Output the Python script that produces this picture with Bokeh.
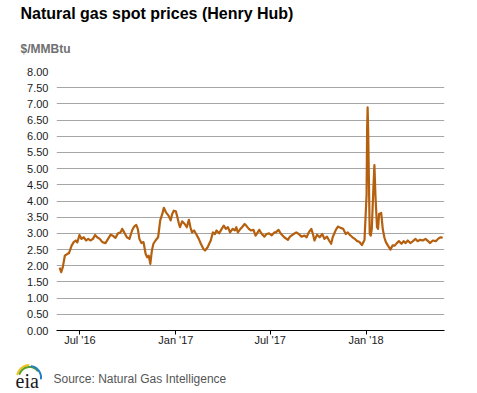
import math
import pandas as pd
from bokeh.plotting import figure
from bokeh.models import Range1d, FixedTicker, DatetimeTickFormatter, NumeralTickFormatter, ColumnDataSource
from bokeh.layouts import column
from bokeh.core.properties import value
from bokeh.embed import file_html
from bokeh.resources import INLINE

title_text = "Natural gas spot prices (Henry Hub)"
unit_text = "$/MMBtu"
source_text = "Source: Natural Gas Intelligence"

dates = [
    "2016-05-23", "2016-05-26", "2016-05-29", "2016-06-02", "2016-06-07", "2016-06-10",
    "2016-06-15", "2016-06-19", "2016-06-23", "2016-06-26", "2016-06-30", "2016-07-04",
    "2016-07-08", "2016-07-13", "2016-07-17", "2016-07-21", "2016-07-26", "2016-07-30",
    "2016-08-03", "2016-08-08", "2016-08-13", "2016-08-19", "2016-08-24", "2016-08-29",
    "2016-09-02", "2016-09-07", "2016-09-12", "2016-09-17", "2016-09-20", "2016-09-24",
    "2016-09-29", "2016-10-04", "2016-10-09", "2016-10-13", "2016-10-17", "2016-10-20",
    "2016-10-23", "2016-10-27", "2016-10-31", "2016-11-04", "2016-11-07", "2016-11-10",
    "2016-11-13", "2016-11-16", "2016-11-19", "2016-11-23", "2016-11-28", "2016-12-02",
    "2016-12-06", "2016-12-09", "2016-12-13", "2016-12-18", "2016-12-22", "2016-12-25",
    "2016-12-28", "2017-01-01", "2017-01-04", "2017-01-07", "2017-01-09", "2017-01-13",
    "2017-01-18", "2017-01-22", "2017-01-26", "2017-01-29", "2017-02-01", "2017-02-05",
    "2017-02-09", "2017-02-14", "2017-02-18", "2017-02-23", "2017-02-26", "2017-03-03",
    "2017-03-06", "2017-03-09", "2017-03-13", "2017-03-17", "2017-03-20", "2017-03-25",
    "2017-03-30", "2017-04-03", "2017-04-07", "2017-04-11", "2017-04-15", "2017-04-20",
    "2017-04-24", "2017-04-27", "2017-04-30", "2017-05-05", "2017-05-08", "2017-05-13",
    "2017-05-16", "2017-05-21", "2017-05-25", "2017-05-30", "2017-06-03", "2017-06-07",
    "2017-06-10", "2017-06-15", "2017-06-20", "2017-06-24", "2017-06-29", "2017-07-04",
    "2017-07-09", "2017-07-12", "2017-07-17", "2017-07-22", "2017-07-28", "2017-08-04",
    "2017-08-08", "2017-08-15", "2017-08-20", "2017-08-25", "2017-08-30", "2017-09-05",
    "2017-09-09", "2017-09-13", "2017-09-18", "2017-09-21", "2017-09-24", "2017-09-29",
    "2017-10-04", "2017-10-09", "2017-10-13", "2017-10-18", "2017-10-22", "2017-10-26",
    "2017-10-29", "2017-11-04", "2017-11-08", "2017-11-13", "2017-11-18", "2017-11-23",
    "2017-11-27", "2017-12-01", "2017-12-06", "2017-12-11", "2017-12-15", "2017-12-19",
    "2017-12-24", "2017-12-27", "2017-12-29", "2018-01-02", "2018-01-03", "2018-01-04",
    "2018-01-05", "2018-01-08", "2018-01-10", "2018-01-12", "2018-01-15", "2018-01-17",
    "2018-01-19", "2018-01-22", "2018-01-24", "2018-01-26", "2018-01-30", "2018-02-02",
    "2018-02-05", "2018-02-08", "2018-02-12", "2018-02-17", "2018-02-21", "2018-02-25",
    "2018-03-01", "2018-03-05", "2018-03-10", "2018-03-14", "2018-03-18", "2018-03-22",
    "2018-03-27", "2018-04-01", "2018-04-06", "2018-04-10", "2018-04-15", "2018-04-20",
    "2018-04-25", "2018-04-30", "2018-05-04", "2018-05-09", "2018-05-15", "2018-05-19",
    "2018-05-24", "2018-05-28",
]

prices = [
    1.94, 1.80, 1.95, 2.31, 2.37, 2.39,
    2.62, 2.73, 2.78, 2.72, 2.95, 2.83,
    2.88, 2.78, 2.83, 2.78, 2.83, 2.95,
    2.88, 2.83, 2.73, 2.70, 2.83, 2.96,
    2.93, 2.86, 3.00, 3.03, 3.14, 3.03,
    2.88, 2.83, 3.09, 3.21, 3.26, 3.14,
    2.83, 2.70, 2.73, 2.37, 2.26, 2.31,
    2.06, 2.47, 2.68, 2.78, 2.88, 3.40,
    3.60, 3.79, 3.65, 3.55, 3.40, 3.60,
    3.70, 3.68, 3.50, 3.29, 3.19, 3.37,
    3.29, 3.19, 3.42, 3.19, 3.03, 3.09,
    2.98, 2.83, 2.68, 2.52, 2.47, 2.57,
    2.68, 2.78, 3.03, 2.98, 3.09, 3.00,
    3.14, 3.24, 3.14, 3.19, 3.03, 3.14,
    3.09, 3.19, 3.03, 3.14, 3.19, 3.29,
    3.24, 3.14, 3.09, 3.11, 2.93, 3.03,
    3.11, 2.98, 2.90, 2.98, 3.00, 2.94,
    3.03, 3.03, 3.11, 2.98, 2.88, 2.80,
    2.90, 2.98, 3.03, 2.98, 2.90, 2.93,
    2.88, 3.03, 3.14, 2.98, 2.78, 2.96,
    2.88, 2.98, 2.83, 2.90, 2.78, 2.68,
    2.88, 3.11, 3.21, 3.17, 3.14, 2.98,
    3.03, 2.95, 2.88, 2.82, 2.76, 2.74,
    2.64, 2.73, 2.80, 4.20, 6.20, 6.89,
    6.20, 2.98, 2.93, 3.14, 4.37, 5.11,
    4.17, 3.19, 3.14, 3.60, 3.63, 3.14,
    2.88, 2.73, 2.62, 2.50, 2.63, 2.62,
    2.70, 2.76, 2.68, 2.76, 2.70, 2.78,
    2.70, 2.76, 2.83, 2.76, 2.80, 2.78,
    2.83, 2.76, 2.70, 2.78, 2.76, 2.83,
    2.88, 2.86,
]

x_ticks = ["2016-07-01", "2017-01-01", "2017-07-01", "2018-01-01"]
y_ticks = [0.0, 0.5, 1.0, 1.5, 2.0, 2.5, 3.0, 3.5, 4.0, 4.5, 5.0, 5.5, 6.0, 6.5, 7.0, 7.5, 8.0]
x_start, x_end = "2016-05-17", "2018-05-31 12:00"

FONT = "Liberation Sans"
LINE_COLOR = "#b5600f"
W = 470


def blank(height, y_top, y_bottom):
    f = figure(width=W, height=height, output_backend="svg", toolbar_location=None,
               x_range=Range1d(0, W), y_range=Range1d(y_bottom, y_top),
               x_axis_location=None, y_axis_location=None,
               min_border=0, min_border_left=0, min_border_right=0,
               min_border_top=0, min_border_bottom=0)
    f.frame_align = False
    f.grid.visible = False
    f.outline_line_color = None
    f.background_fill_color = "white"
    f.border_fill_color = "white"
    return f


# header (page-pixel coordinates)
h = blank(60, 0, 60)
h.text(x=[20], y=[13], text=[title_text], text_font=value(FONT), text_font_size="16px",
       text_font_style="bold", text_color="black", text_baseline="alphabetic")
h.text(x=[20], y=[48], text=[unit_text], text_font=value(FONT), text_font_size="12px",
       text_font_style="bold", text_color="#707070", text_baseline="alphabetic")

# main chart
src = ColumnDataSource(dict(date=pd.to_datetime(dates), price=prices))

p = figure(width=W, height=292, output_backend="svg", toolbar_location=None,
           x_axis_type="datetime",
           x_range=Range1d(pd.Timestamp(x_start), pd.Timestamp(x_end)),
           y_range=Range1d(0, 8),
           min_border_left=56, min_border_right=W - 444, min_border_top=11, min_border_bottom=22)
p.frame_align = False
p.outline_line_color = None
p.background_fill_color = "white"
p.border_fill_color = "white"

p.line("date", "price", source=src, line_color=LINE_COLOR, line_width=2.2, line_join="round")

tick_ms = [pd.Timestamp(t).value / 1e6 for t in x_ticks]
p.xaxis.ticker = FixedTicker(ticks=tick_ms)
fmt = "%b '%y"
p.xaxis.formatter = DatetimeTickFormatter(years=fmt, months=fmt, days=fmt, hours=fmt,
                                          minutes=fmt, seconds=fmt, milliseconds=fmt,
                                          microseconds=fmt, hourmin=fmt, minsec=fmt)
p.xaxis.axis_line_color = "black"
p.xaxis.axis_line_width = 1
p.xaxis.major_tick_line_color = "black"
p.xaxis.major_tick_in = 0
p.xaxis.major_tick_out = 4
p.xaxis.minor_tick_line_color = None
p.xaxis.major_label_standoff = -1
p.xaxis.major_label_text_font = FONT
p.xaxis.major_label_text_font_size = "11px"
p.xaxis.major_label_text_color = "#1a1a1a"

p.yaxis.ticker = FixedTicker(ticks=y_ticks)
p.yaxis.formatter = NumeralTickFormatter(format="0.00")
p.yaxis.axis_line_color = None
p.yaxis.major_tick_line_color = None
p.yaxis.minor_tick_line_color = None
p.yaxis.major_tick_in = 0
p.yaxis.major_tick_out = 0
p.yaxis.major_label_standoff = 8
p.yaxis.major_label_text_font = FONT
p.yaxis.major_label_text_font_size = "11px"
p.yaxis.major_label_text_color = "#1a1a1a"

p.xgrid.grid_line_color = None
p.ygrid.grid_line_color = "#a6a6a6"
p.ygrid.grid_line_width = 1

# footer with logo and source (page-pixel coordinates)
f = blank(40, 352, 392)


def swoosh(cx, cy, r, a0, a1, color):
    n = 20
    ang = [math.radians(a0 + (a1 - a0) * i / n) for i in range(n + 1)]
    f.line(x=[cx + r * math.cos(a) for a in ang], y=[cy - r * math.sin(a) for a in ang],
           line_color=color, line_width=2, line_cap="round")


swoosh(29, 377, 12.5, 165, 95, "#f2c318")
swoosh(29, 377, 10.5, 160, 40, "#5aa02c")
swoosh(29, 377, 11.5, 80, -5, "#1f7fc4")
f.text(x=[15], y=[380], text=["eia"], text_font=value("Liberation Serif"),
       text_font_size="20px", text_color="#1a1a1a", text_baseline="alphabetic")
f.text(x=[53], y=[378], text=[source_text], text_font=value(FONT),
       text_font_size="12px", text_color="#555555", text_baseline="alphabetic")

layout = column(h, p, f, spacing=0)
open("out.html", "w").write(file_html(layout, INLINE))
